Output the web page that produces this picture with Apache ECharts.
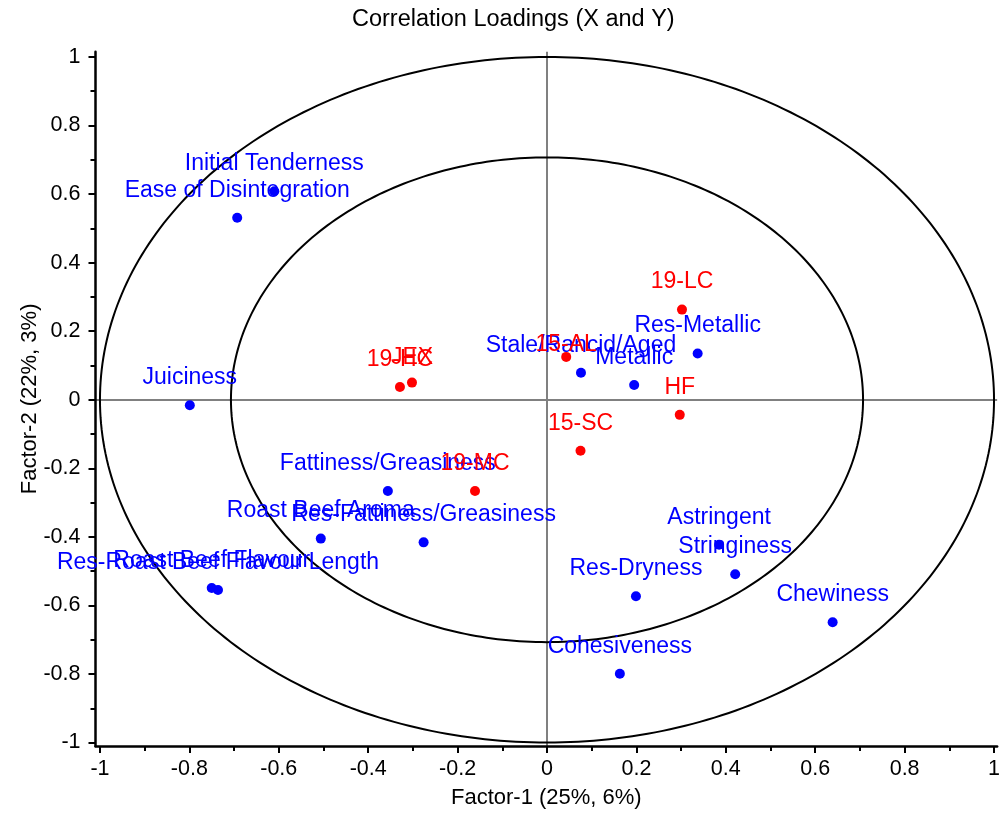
<!DOCTYPE html>
<html>
<head>
<meta charset="utf-8">
<title>Correlation Loadings (X and Y)</title>
<script src="https://cdn.jsdelivr.net/npm/echarts@6/dist/echarts.min.js"></script>
<style>
  html, body { margin: 0; padding: 0; background: #fff; }
  #chart { width: 1003px; height: 814px; }
</style>
</head>
<body>
<div id="chart"></div>
<script>
// Sensory attributes (blue loadings)
const attrNames = [
  'Initial Tenderness', 'Ease of Disintegration', 'Juiciness',
  'Fattiness/Greasiness', 'Res-Fattiness/Greasiness', 'Roast Beef Aroma',
  'Roast Beef Flavour', 'Res-Roast Beef Flavour Length', 'Stale/Rancid/Aged',
  'Metallic', 'Res-Metallic', 'Astringent', 'Stringiness', 'Res-Dryness',
  'Chewiness', 'Cohesiveness'
];
const attrFactor1 = [-0.610, -0.693, -0.799, -0.356, -0.276, -0.506, -0.750, -0.736,
  0.076, 0.195, 0.337, 0.385, 0.421, 0.199, 0.639, 0.163];
const attrFactor2 = [0.608, 0.531, -0.016, -0.266, -0.416, -0.405, -0.549, -0.555,
  0.079, 0.043, 0.135, -0.423, -0.509, -0.573, -0.649, -0.799];

// Samples (red loadings)
const sampleNames = ['19-LC', '15-AL', 'HF', '15-SC', '19-MC', 'JEX', '19-HC'];
const sampleFactor1 = [0.302, 0.043, 0.297, 0.075, -0.161, -0.302, -0.329];
const sampleFactor2 = [0.263, 0.125, -0.044, -0.149, -0.266, 0.050, 0.037];

const LABEL_GAP = 11;
// Some sample names sit closer to their point
const sampleLabelGap = { '15-AL': -4, 'JEX': 8 };

// Explained-variance circles (100% and 50%)
const circleRadii = [1, 0.707];

// Axis ticks
const majorTicks = [-1, -0.8, -0.6, -0.4, -0.2, 0, 0.2, 0.4, 0.6, 0.8, 1];
const minorTicks = [-0.9, -0.7, -0.5, -0.3, -0.1, 0.1, 0.3, 0.5, 0.7, 0.9];

const FONT = "'Liberation Sans', Arial, sans-serif";

function pointsOf(names, xs, ys, gaps) {
  return names.map((n, i) => {
    const item = { name: n, value: [xs[i], ys[i]] };
    if (gaps && gaps[n] !== undefined) item.label = { distance: gaps[n] };
    return item;
  });
}

function majorAxis(extra) {
  return Object.assign({
    type: 'value',
    splitLine: { show: false },
    nameMoveOverlap: false,
    axisLine: { show: true, onZero: false, lineStyle: { color: '#000', width: 2.5 } },
    axisTick: { show: true, customValues: majorTicks, length: 7, lineStyle: { color: '#000', width: 2 } },
    nameTextStyle: { color: '#000', fontSize: 22, fontFamily: FONT }
  }, extra);
}

function minorAxis(extra) {
  return Object.assign({
    type: 'value',
    splitLine: { show: false },
    axisLine: { show: false, onZero: false },
    axisTick: { show: true, customValues: minorTicks, length: 5, lineStyle: { color: '#000', width: 2 } },
    axisLabel: { show: false }
  }, extra);
}

function tickLabels(margin) {
  return {
    customValues: majorTicks, color: '#000', fontSize: 21.5, fontFamily: FONT,
    margin: margin, formatter: v => String(v)
  };
}

function pointLabel(color) {
  return {
    show: true, position: 'top', distance: LABEL_GAP,
    formatter: p => p.name,
    color: color, opacity: 1, fontSize: 23, lineHeight: 23, fontFamily: FONT
  };
}

const chart = echarts.init(document.getElementById('chart'), null, { renderer: 'canvas' });

chart.setOption({
  backgroundColor: '#fff',
  animation: false,
  title: {
    text: 'Correlation Loadings (X and Y)',
    left: 352,
    top: 8,
    padding: 0,
    textStyle: { color: '#000', fontSize: 23.5, fontWeight: 'normal', fontFamily: FONT }
  },
  grid: { left: 95.5, right: 0, top: 51.8, bottom: 66.6, containLabel: false },
  xAxis: [
    majorAxis({
      min: -1.01, max: 1.007, position: 'bottom',
      name: 'Factor-1 (25%, 6%)', nameLocation: 'middle', nameGap: 41,
      axisLabel: tickLabels(12)
    }),
    minorAxis({ min: -1.01, max: 1.007, position: 'bottom' })
  ],
  yAxis: [
    majorAxis({
      min: -1.01, max: 1.015, position: 'left',
      name: 'Factor-2 (22%, 3%)', nameLocation: 'middle', nameGap: 55, nameRotate: 90,
      axisLabel: tickLabels(15)
    }),
    minorAxis({ min: -1.01, max: 1.015, position: 'left' })
  ],
  series: [
    {
      type: 'custom',
      name: 'circles',
      silent: true,
      coordinateSystem: 'cartesian2d',
      data: circleRadii.map(r => [r, 0]),
      encode: { x: 0, y: 1 },
      renderItem: function (params, api) {
        const r = api.value(0);
        const pts = [];
        for (let a = 0; a <= 360; a += 1) {
          const t = a * Math.PI / 180;
          pts.push(api.coord([r * Math.cos(t), r * Math.sin(t)]));
        }
        return {
          type: 'polyline',
          shape: { points: pts },
          style: { fill: 'none', stroke: '#000', lineWidth: 2 }
        };
      },
      z: 1
    },
    {
      type: 'scatter',
      name: 'Attributes',
      symbolSize: 10,
      itemStyle: { color: '#0000ff', opacity: 1 },
      data: pointsOf(attrNames, attrFactor1, attrFactor2),
      label: pointLabel('#0000ff'),
      labelLayout: { hideOverlap: false },
      markLine: {
        silent: true,
        symbol: 'none',
        label: { show: false },
        lineStyle: { color: '#808080', width: 2, type: 'solid', opacity: 1 },
        data: [{ xAxis: 0 }, { yAxis: 0 }],
        z: 0
      },
      z: 3
    },
    {
      type: 'scatter',
      name: 'Samples',
      symbolSize: 10,
      itemStyle: { color: '#ff0000', opacity: 1 },
      data: pointsOf(sampleNames, sampleFactor1, sampleFactor2, sampleLabelGap),
      label: pointLabel('#ff0000'),
      labelLayout: { hideOverlap: false },
      z: 4
    }
  ]
});
</script>
</body>
</html>
